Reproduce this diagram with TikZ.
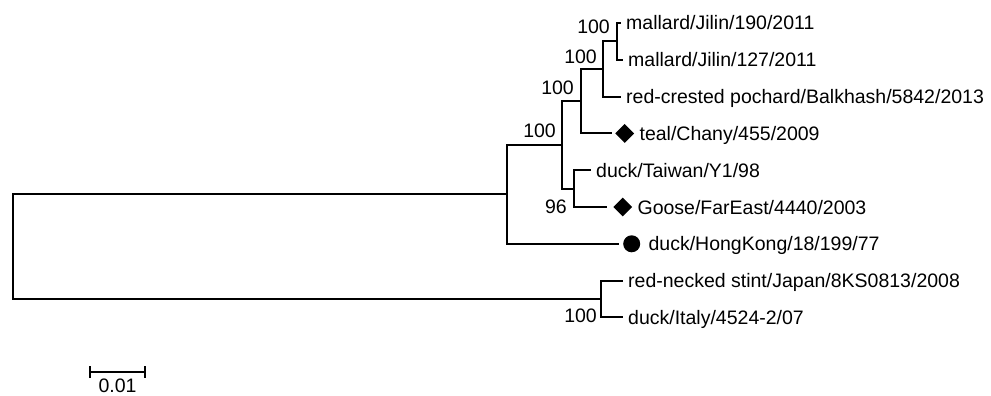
\documentclass[tikz,border=0pt]{standalone}
\usepackage{fontspec}
\setmainfont{Liberation Sans}
\usepackage{tikz}
\usetikzlibrary{shapes.geometric, arrows.meta, positioning, calc}
\tikzstyle{branch} = [line width=2pt, line join=miter]
\tikzstyle{leaf} = [anchor=west, inner sep=0pt, text height=14pt, text depth=0pt,
                    font=\fontsize{19.5}{23}\selectfont]
\tikzstyle{boot} = [anchor=east, inner sep=0pt, text height=14pt, text depth=0pt,
                    font=\fontsize{19.5}{23}\selectfont]
\tikzstyle{dmark} = [diamond, fill=black, inner sep=0pt, minimum size=19pt]
\tikzstyle{cmark} = [circle, fill=black, inner sep=0pt, minimum size=17pt]

\begin{document}
\begin{tikzpicture}[x=1pt, y=-1pt, node distance=5pt]
    \useasboundingbox (0,0) rectangle (991,396);

    % Internal nodes
    \coordinate (R) at (13,246.7);
    \coordinate (A) at (507,194.4);
    \coordinate (B) at (601,299.0);
    \coordinate (C) at (562,144.9);
    \coordinate (D) at (581,101.2);
    \coordinate (E) at (603,69.0);
    \coordinate (F) at (617,41.4);
    \coordinate (G) at (574,188.6);

    % Tips
    \coordinate (t1) at (621,23.0);
    \coordinate (t2) at (623,59.8);
    \coordinate (t3) at (621,96.6);
    \coordinate (t4) at (612,133.4);
    \coordinate (t5) at (591,170.2);
    \coordinate (t6) at (607,207.0);
    \coordinate (t7) at (619,243.8);
    \coordinate (t8) at (623,280.6);
    \coordinate (t9) at (623,317.4);

    % Branches
    \draw[branch] (R) |- (A);
    \draw[branch] (R) |- (B);
    \draw[branch] (A) |- (C);
    \draw[branch] (A) |- (t7);
    \draw[branch] (C) |- (D);
    \draw[branch] (C) |- (G);
    \draw[branch] (D) |- (E);
    \draw[branch] (D) |- (t4);
    \draw[branch] (E) |- (F);
    \draw[branch] (E) |- (t3);
    \draw[branch] (F) |- (t1);
    \draw[branch] (F) |- (t2);
    \draw[branch] (G) |- (t5);
    \draw[branch] (G) |- (t6);
    \draw[branch] (B) |- (t8);
    \draw[branch] (B) |- (t9);

    % Markers
    \node[dmark, right=3pt of t4] (m4) {};
    \node[dmark, right=6pt of t6] (m6) {};
    \node[cmark, right=4pt of t7] (m7) {};

    % Leaf labels
    \node[leaf, right=of t1] (l1) {mallard/Jilin/190/2011};
    \node[leaf, right=of t2] (l2) {mallard/Jilin/127/2011};
    \node[leaf, right=of t3] (l3) {red-crested pochard/Balkhash/5842/2013};
    \node[leaf, right=of m4] (l4) {teal/Chany/455/2009};
    \node[leaf, right=of t5] (l5) {duck/Taiwan/Y1/98};
    \node[leaf, right=of m6] (l6) {Goose/FarEast/4440/2003};
    \node[leaf, right=8pt of m7] (l7) {duck/HongKong/18/199/77};
    \node[leaf, right=of t8] (l8) {red-necked stint/Japan/8KS0813/2008};
    \node[leaf, right=of t9] (l9) {duck/Italy/4524-2/07};

    % Bootstrap values
    \node[boot] (bF) at (610,27) {100};
    \node[boot] (bE) at (597,57) {100};
    \node[boot] (bD) at (574,88) {100};
    \node[boot] (bC) at (556,130) {100};
    \node[boot] (bG) at (567,206) {96};
    \node[boot] (bB) at (597,315) {100};

    % Scale bar
    \coordinate (s1) at (89,372);
    \coordinate (s2) at (146,372);
    \coordinate (sm) at ($(s1)!0.5!(s2)$);
    \draw[line width=1.8pt, {Bar[width=12pt]}-{Bar[width=12pt]}] (s1) -- (s2);
    \node[boot, below=6pt of sm] (sl) {0.01};
\end{tikzpicture}
\end{document}
